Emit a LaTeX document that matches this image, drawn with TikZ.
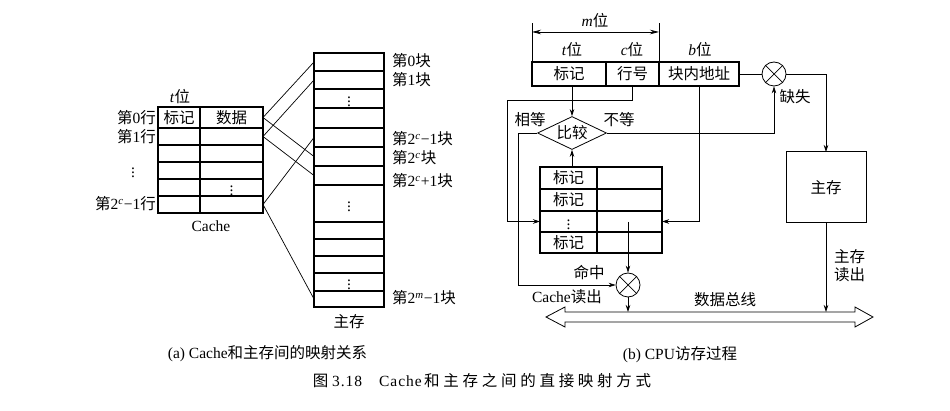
\documentclass[tikz,border=0pt]{standalone}
\usepackage{fontspec}
\setmainfont{Liberation Serif}
\newfontfamily\zhf{Noto Sans CJK SC}
\newfontfamily\zhcapf[LetterSpace=24]{Noto Sans CJK SC}
\newfontfamily\latcapf[LetterSpace=6]{Liberation Serif}
\newcommand\zh[1]{{\zhf #1}}
\newcommand\zhcap[1]{{\zhcapf #1}}
\usetikzlibrary{arrows.meta,shapes.geometric}
\tikzset{
  tbl/.style={draw, line width=1.1pt, inner sep=0pt, outer sep=0pt},
  lbl/.style={inner sep=0pt},
  conn/.style={line width=0.7pt},
  arr/.style={conn, -{Stealth[length=7pt,width=4.5pt]}},
  xorc/.style={circle, draw, line width=0.8pt, minimum size=24pt, inner sep=0pt},
}
\begin{document}
\begin{tikzpicture}[x=1pt,y=-1pt,font=\fontsize{15.5}{18}\selectfont]
\useasboundingbox (0,0) rectangle (950,411);

% ---------------- (a) left: cache
\foreach \i/\t/\b in {0/107/128,1/128/145,2/145/162,3/162/179,4/179/196,5/196/213}
  \node[tbl, minimum width=105pt, minimum height={(\b-\t)*1pt}] (c\i) at (210.5,{(\t+\b)/2}) {};
\draw[line width=1.1pt] (200,107) -- (200,213);
\node[lbl] (ctag) at (179,117.5) {\zh{标记}};
\node[lbl] (cdat) at (231.5,117.5) {\zh{数据}};
\node[lbl] (cdots) at (231.5,187.5) {$\vdots$};
\node[lbl] (tbit) at (180,97) {\textit{t}\zh{位}};
\node[lbl, anchor=east] (l0) at (156,118) {\zh{第}0\zh{行}};
\node[lbl, anchor=east] (l1) at (156,137) {\zh{第}1\zh{行}};
\node[lbl] (ldots) at (133,170) {$\vdots$};
\node[lbl, anchor=east] (llast) at (156,204) {\zh{第}2\textsuperscript{\textit{c}}−1\zh{行}};
\node[lbl] (cname) at (211,226) {Cache};

% ---------------- (a) right: main memory
\foreach \i/\t/\b in {0/53/71,1/71/89,2/89/108,3/108/128,4/128/147,5/147/166,6/166/185,7/185/222,8/222/239,9/239/256,10/256/273,11/273/291,12/291/307}
  \node[tbl, minimum width=70pt, minimum height={(\b-\t)*1pt}] (m\i) at (349,{(\t+\b)/2}) {};
\node[lbl] at (m2) {$\vdots$};
\node[lbl] at (m7) {$\vdots$};
\node[lbl] at (m11) {$\vdots$};
\node[lbl, anchor=west] (b0) at (392,61) {\zh{第}0\zh{块}};
\node[lbl, anchor=west] (b1) at (392,80) {\zh{第}1\zh{块}};
\node[lbl, anchor=west] (b2) at (392,139) {\zh{第}2\textsuperscript{\textit{c}}−1\zh{块}};
\node[lbl, anchor=west] (b3) at (392,158) {\zh{第}2\textsuperscript{\textit{c}}\zh{块}};
\node[lbl, anchor=west] (b4) at (392,181) {\zh{第}2\textsuperscript{\textit{c}}+1\zh{块}};
\node[lbl, anchor=west] (b5) at (392,298) {\zh{第}2\textsuperscript{\textit{m}}−1\zh{块}};
\node[lbl] (mname) at (349,322) {\zh{主存}};

\draw[conn] (c0.east) -- (m0.west);
\draw[conn] (c1.east) -- (m1.west);
\draw[conn] (c0.east) -- (m5.west);
\draw[conn] (c1.east) -- (m6.west);
\draw[conn] (c5.east) -- (m4.west);
\draw[conn] (c5.east) -- (m12.west);

\node[lbl] (capa) at (267.5,354) {(a) Cache\zh{和主存间的映射关系}};

% ---------------- (b)
\node[tbl, minimum width=74pt, minimum height=24pt] (tag) at (569,74) {\zh{标记}};
\node[tbl, minimum width=53pt, minimum height=24pt] (row) at (632.5,74) {\zh{行号}};
\node[tbl, minimum width=80pt, minimum height=24pt] (off) at (699,74) {\zh{块内地址}};
\node[lbl] (tb) at (572,50) {\textit{t}\zh{位}};
\node[lbl] (cb) at (632,50) {\textit{c}\zh{位}};
\node[lbl] (bb) at (700,50) {\textit{b}\zh{位}};
\node[lbl] (mb) at (595,21) {\textit{m}\zh{位}};
\draw[conn] (tag.north west) -- ++(0,-39);
\draw[conn] (row.north east) -- ++(0,-39);
\coordinate (dL) at (532,32);
\coordinate (dR) at (659,32);
\draw[conn, {Stealth[length=9pt,width=4.5pt]}-{Stealth[length=9pt,width=4.5pt]}] (dL) -- (dR);

\node[diamond, draw, line width=0.8pt, aspect=2, minimum width=69pt, minimum height=33pt, inner sep=0pt] (cmp) at (572,133) {\zh{比较}};
\draw[arr] (tag.south -| cmp) -- (cmp.north);

\foreach \i/\t/\b in {0/167/189,1/189/211,2/211/232,3/232/253}
  \node[tbl, minimum width=122pt, minimum height={(\b-\t)*1pt}] (r\i) at (601,{(\t+\b)/2}) {};
\draw[line width=1.1pt] (597,167) -- (597,253);
\node[lbl] at (568.5,178) {\zh{标记}};
\node[lbl] at (568.5,200) {\zh{标记}};
\node[lbl] at (568.5,221.5) {$\vdots$};
\node[lbl] at (568.5,242.5) {\zh{标记}};
\draw[arr] (r0.north -| cmp) -- (cmp.south);

\node[xorc] (miss) at (774,74) {};
\draw[conn] (miss.north west) -- (miss.south east) (miss.north east) -- (miss.south west);
\node[xorc] (hit) at (628,285) {};
\draw[conn] (hit.north west) -- (hit.south east) (hit.north east) -- (hit.south west);

\node[tbl, line width=1pt, minimum width=80pt, minimum height=71pt] (mm) at (826,187.5) {\zh{主存}};

\draw[arr] (row.south) -- ++(0,14) -| (507,221.5) -- (r2.west);
\draw[arr] (off.south) |- (r2.east);
\draw[arr] (cmp.west) -- (518,133) |- (hit.west);
\draw[arr] (cmp.east) -| (miss.south);
\draw[conn] (off.east) -- (miss.west);
\draw[arr] (miss.east) -| (mm.north);

\coordinate (bustop) at (700,312);
\coordinate (hs) at (628,222);
\draw[arr] (hs) -- (hit.north);
\draw[arr] (hit.south) -- (hit.south |- bustop);
\draw[arr] (mm.south) -- (mm.south |- bustop);

\draw[line width=0.8pt] (546,317) -- (565,307) -- (565,312) -- (855,312) -- (855,307) -- (873,317) -- (855,327) -- (855,322) -- (565,322) -- (565,327) -- cycle;

\node[lbl] (eq) at (530,120) {\zh{相等}};
\node[lbl] (neq) at (619,120) {\zh{不等}};
\node[lbl] (misst) at (795,97) {\zh{缺失}};
\node[lbl] (hitt) at (589,273) {\zh{命中}};
\node[lbl] (cread) at (567,297) {Cache\zh{读出}};
\node[lbl] (bust) at (725,300) {\zh{数据总线}};
\node[lbl, anchor=west, align=left, font=\fontsize{15.5}{18}\selectfont] (mread) at (834,266) {\zh{主存}\\\zh{读出}};

\node[lbl] (capb) at (680,355) {(b) CPU\zh{访存过程}};

\node[lbl] (cap) at (482,381) {\zh{图}\ {\latcapf 3.18}\hspace{1.1em}{\latcapf Cache}\,\zhcap{和主存之间的直接映射方式}};
\end{tikzpicture}
\end{document}
